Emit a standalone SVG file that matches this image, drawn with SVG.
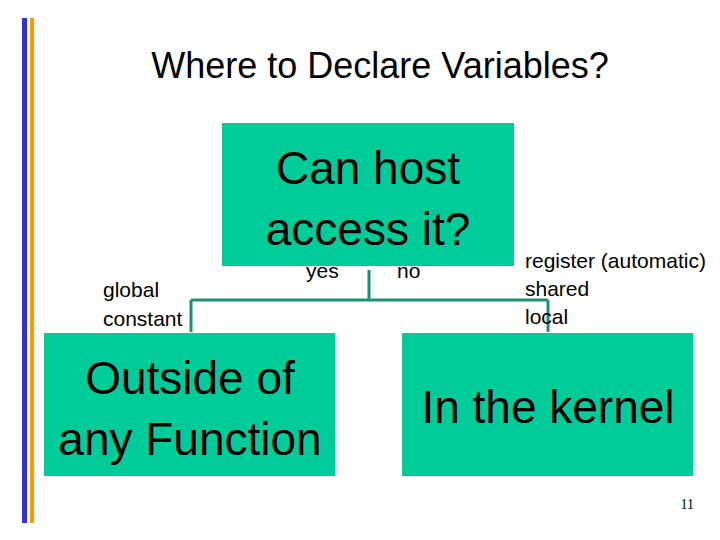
<svg xmlns="http://www.w3.org/2000/svg" width="720" height="540" viewBox="0 0 720 540">
<style>
.box{fill:#00CC99}
.big{font-family:"Liberation Sans",Arial,sans-serif;font-size:46px;fill:#000;text-anchor:middle}
.sm{font-family:"Liberation Sans",Arial,sans-serif;font-size:21px;fill:#000}
.ln{stroke:#1F8F78;stroke-width:3;fill:none}
</style>
<rect width="720" height="540" fill="#fff"/>
<rect x="22" y="18" width="5" height="505" fill="#3333CC"/>
<rect x="30" y="18" width="4" height="505" fill="#FF9900"/>
<text x="380" y="78" font-family="Liberation Sans,Arial,sans-serif" font-size="36" text-anchor="middle">Where to Declare Variables?</text>
<g id="connectors">
<path class="ln" d="M369,270 V300 M191,300 H548 M191,300 V332 M548,300 V332"/>
</g>
<g id="host"><rect class="box" x="222" y="123" width="292" height="143"/>
<text class="big" x="368" y="184">Can host</text><text class="big" x="368" y="245">access it?</text></g>
<g id="outside"><rect class="box" x="44" y="333" width="291" height="143"/>
<text class="big" x="190" y="394">Outside of</text><text class="big" x="190" y="455">any Function</text></g>
<g id="kernel"><rect class="box" x="402" y="333" width="291" height="143"/>
<text class="big" x="548" y="423">In the kernel</text></g>
<g id="labels">
<text class="sm" x="306" y="278">yes</text>
<text class="sm" x="397" y="278">no</text>
<text class="sm" x="103" y="297">global</text>
<text class="sm" x="103" y="326">constant</text>
<text class="sm" x="525" y="268">register (automatic)</text>
<text class="sm" x="525" y="296">shared</text>
<text class="sm" x="525" y="324">local</text>
<text x="694" y="509" font-family="Liberation Serif,serif" font-size="14" text-anchor="end">11</text>
</g>
</svg>
